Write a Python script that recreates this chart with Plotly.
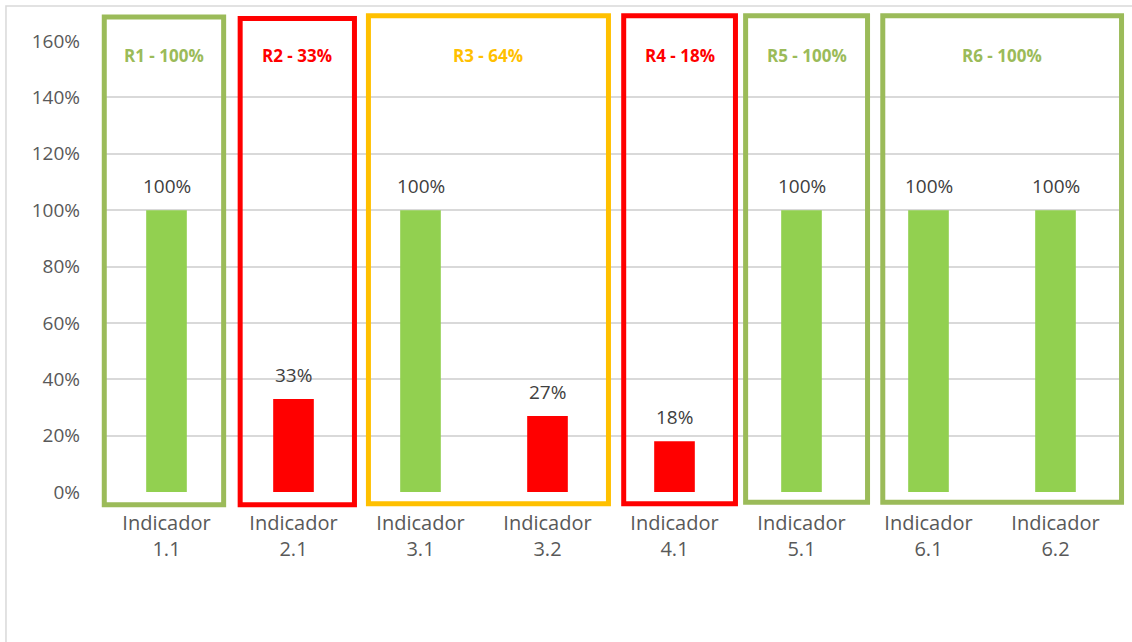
import plotly.graph_objects as go

categories = ["Indicador<br>1.1", "Indicador<br>2.1", "Indicador<br>3.1", "Indicador<br>3.2",
              "Indicador<br>4.1", "Indicador<br>5.1", "Indicador<br>6.1", "Indicador<br>6.2"]
values = [1.00, 0.33, 1.00, 0.27, 0.18, 1.00, 1.00, 1.00]
bar_colors = ["#92D050", "#FF0000", "#92D050", "#FF0000", "#FF0000", "#92D050", "#92D050", "#92D050"]

group_labels = ["R1 - 100%", "R2 - 33%", "R3 - 64%", "R4 - 18%", "R5 - 100%", "R6 - 100%"]
group_colors = ["#9BBB59", "#FF0000", "#FFC000", "#FF0000", "#9BBB59", "#9BBB59"]
# box extents in category units (index of first/last category +- padding)
group_x0 = [-0.49, 0.58, 1.59, 3.60, 4.56, 5.64]
group_x1 = [0.45, 1.48, 3.48, 4.48, 5.52, 7.52]
group_top = [1.685, 1.68, 1.69, 1.69, 1.69, 1.69]
group_bottom = [-0.045, -0.045, -0.042, -0.042, -0.036, -0.036]

y_ticks = [0, 0.2, 0.4, 0.6, 0.8, 1.0, 1.2, 1.4, 1.6]
y_max = 1.6
n_cat = len(categories)

FONT = "Open Sans"

fig = go.Figure()
fig.add_trace(go.Bar(
    x=list(range(n_cat)), y=values,
    marker=dict(color=bar_colors, line=dict(width=0)),
    width=0.32, hoverinfo="skip",
))

# data labels above bars
for i, v in enumerate(values):
    fig.add_annotation(x=i, y=v, text=f"{round(v * 100)}%", showarrow=False,
                       xanchor="center", yanchor="bottom", yshift=9,
                       font=dict(family=FONT, size=19, color="#404040"))


def xd(v):
    return (v + 0.5) / n_cat


def yd(v):
    return v / y_max


shapes = []
for lab, col, a, b, t, btm in zip(group_labels, group_colors, group_x0, group_x1, group_top, group_bottom):
    shapes.append(dict(type="rect", xref="x domain", yref="y domain",
                       x0=xd(a), x1=xd(b), y0=yd(btm), y1=yd(t),
                       line=dict(color=col, width=5), fillcolor="rgba(0,0,0,0)", layer="above"))
    fig.add_annotation(xref="x domain", yref="y domain", x=xd((a + b) / 2), y=yd(1.55),
                       text=f"<b>{lab}</b>", showarrow=False, xanchor="center", yanchor="middle",
                       font=dict(family=FONT, size=17, color=col))

# outer chart frame
shapes.append(dict(type="rect", xref="paper", yref="paper", x0=-0.0955, x1=1.05, y0=-0.5, y1=1.0776,
                   line=dict(color="#D9D9D9", width=1.5), fillcolor="rgba(0,0,0,0)", layer="below"))

fig.update_layout(
    width=1132, height=642,
    margin=dict(l=103, r=13, t=41, b=150),
    paper_bgcolor="white", plot_bgcolor="white",
    showlegend=False, shapes=shapes,
    font=dict(family=FONT, size=19, color="#595959"),
)
fig.update_xaxes(range=[-0.5, n_cat - 0.5], tickvals=list(range(n_cat)), ticktext=categories,
                 showgrid=False, showline=False, zeroline=False, ticks="",
                 ticklabelstandoff=17, tickfont=dict(family=FONT, size=20, color="#595959"))
fig.update_yaxes(range=[0, y_max], tickvals=y_ticks, tickformat=".0%",
                 showgrid=True, gridcolor="#D9D9D9", gridwidth=1.5, zeroline=False,
                 showline=False, ticks="", ticklabelstandoff=22,
                 tickfont=dict(family=FONT, size=19, color="#595959"))

fig.write_html("out.html", config={"displayModeBar": False},
               post_script="document.body.style.margin='0';")
